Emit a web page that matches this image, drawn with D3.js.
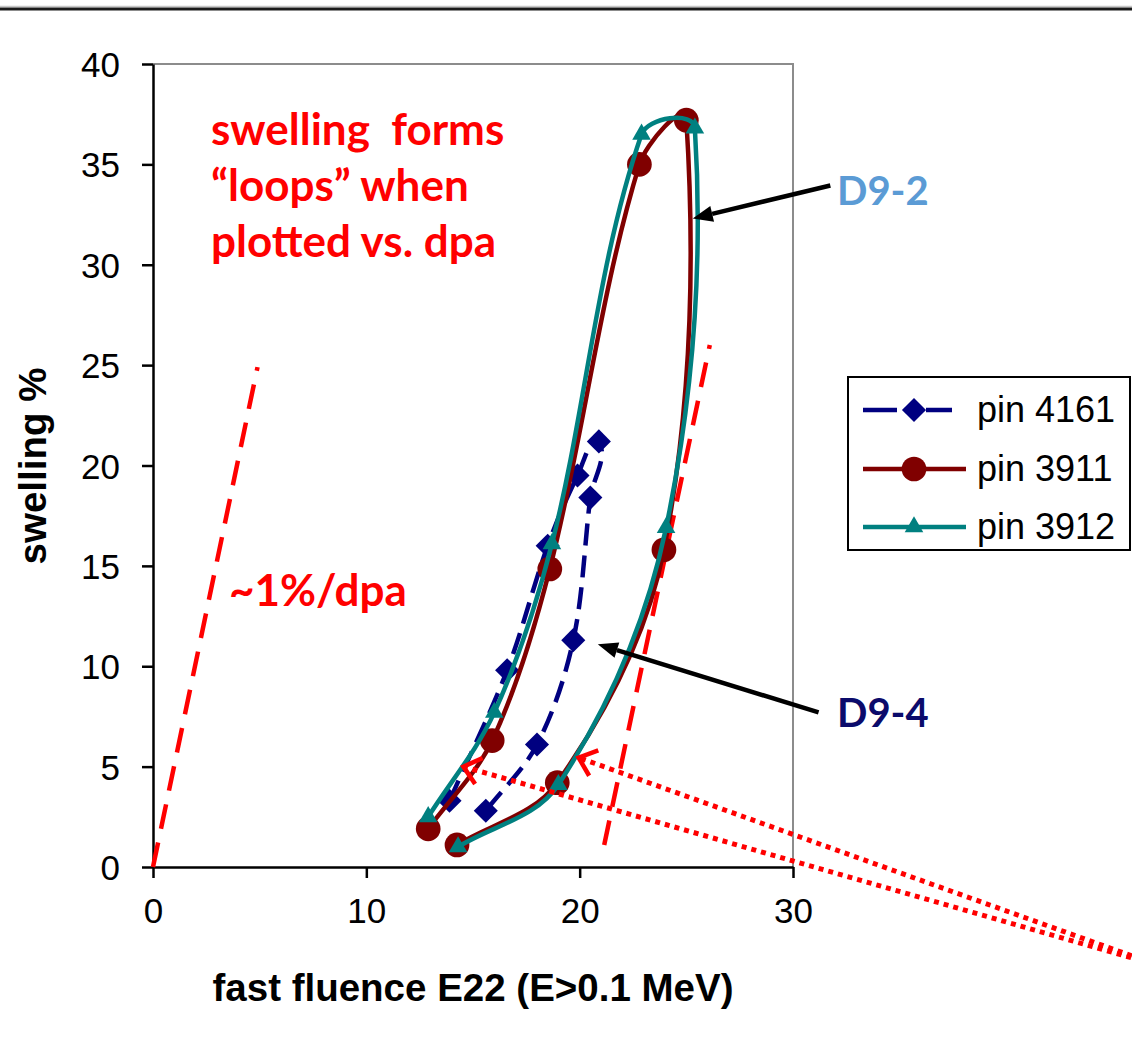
<!DOCTYPE html>
<html>
<head>
<meta charset="utf-8">
<script src="https://cdn.jsdelivr.net/npm/d3@7"></script>
<style>
  body { margin: 0; background: #fff; }
  svg { display: block; }
  .tick text { font-family: "Liberation Sans", Arial, sans-serif; }
</style>
</head>
<body>
<div id="chart"></div>
<script>
// Values: fast fluence (E22) and swelling (%)
const pin4161X = [13.9, 16.6, 18.5, 19.9, 20.9, 20.5, 19.7, 18.0, 15.6];
const pin4161Y = [3.3, 9.8, 16.0, 19.5, 21.2, 18.4, 11.3, 6.1, 2.8];

const pin3911X = [12.9, 15.9, 18.6, 22.8, 25.0, 23.95, 18.95, 14.25];
const pin3911Y = [1.9, 6.3, 14.85, 35.0, 37.2, 15.8, 4.2, 1.1];

const pin3912X = [12.9, 16.0, 18.7, 22.9, 25.4, 24.05, 19.0, 14.3];
const pin3912Y = [2.5, 7.7, 16.1, 36.5, 36.8, 16.9, 4.1, 1.0];

const seriesNames = ["pin 4161", "pin 3911", "pin 3912"];
const xTicks = [0, 10, 20, 30];
const yTicks = [0, 5, 10, 15, 20, 25, 30, 35, 40];

// annotation guides, in data units
const rateLineX = [0, 4.9];
const rateLineY = [0, 24.9];
const rateLine2X = [21.15, 26.1];
const rateLine2Y = [1.1, 26.0];
const pointerFromX = [47.2, 47.2];
const pointerFromY = [-4.93, -4.93];
const pointerToX = [14.55, 19.95];
const pointerToY = [5.0, 5.45];
const labelArrowFromX = [31.75, 31.2];
const labelArrowFromY = [33.95, 7.7];
const labelArrowToX = [25.3, 20.85];
const labelArrowToY = [32.3, 11.1];

const width = 1132;
const height = 1046;

const svg = d3.select("#chart")
  .append("svg")
    .attr("width", width)
    .attr("height", height);

// rule across the top of the slide
svg.append("line")
    .attr("x1", 0).attr("x2", width)
    .attr("y1", 6.5).attr("y2", 6.5)
    .attr("stroke", "#c8c8c8").attr("stroke-width", 1.5);
svg.append("line")
    .attr("x1", 0).attr("x2", width)
    .attr("y1", 9).attr("y2", 9)
    .attr("stroke", "#1a1a1a").attr("stroke-width", 3);

const x = d3.scaleLinear().domain([0, 30]).range([153, 793]);
const y = d3.scaleLinear().domain([0, 40]).range([867, 64]);

// plot frame (grey top and right)
svg.append("path")
    .attr("d", `M${x(0)},${y(40)}H${x(30)}V${y(0)}`)
    .attr("fill", "none")
    .attr("stroke", "#8c8c8c")
    .attr("stroke-width", 2);

// axes
const yAxis = svg.append("g")
    .attr("transform", `translate(${x(0)},0)`)
    .call(d3.axisLeft(y).tickValues(yTicks).tickSize(11).tickSizeOuter(0).tickPadding(22));
const xAxis = svg.append("g")
    .attr("transform", `translate(0,${y(0)})`)
    .call(d3.axisBottom(x).tickValues(xTicks).tickSize(11).tickSizeOuter(0).tickPadding(20));

[xAxis, yAxis].forEach(g => {
  g.select(".domain").attr("stroke", "#000").attr("stroke-width", 2.5);
  g.selectAll(".tick line").attr("stroke", "#000").attr("stroke-width", 2.5);
  g.selectAll(".tick text").attr("font-size", 35).attr("fill", "#000");
});
yAxis.selectAll(".tick text").attr("dy", "0.36em");

// axis titles
svg.append("text")
    .attr("x", 473).attr("y", 1001)
    .attr("text-anchor", "middle")
    .attr("font-family", "Liberation Sans, Arial, sans-serif")
    .attr("font-weight", "bold")
    .attr("font-size", 38.5)
    .text("fast fluence E22 (E>0.1 MeV)");

svg.append("text")
    .attr("transform", "translate(46,466) rotate(-90)")
    .attr("text-anchor", "middle")
    .attr("font-family", "Liberation Sans, Arial, sans-serif")
    .attr("font-weight", "bold")
    .attr("font-size", 38.5)
    .text("swelling %");

// red dashed "~1%/dpa" guide lines
const guide = d3.line().x(d => x(d[0])).y(d => y(d[1]));
[[rateLineX, rateLineY], [rateLine2X, rateLine2Y]].forEach(([gx, gy]) => {
  svg.append("path")
      .attr("d", guide(d3.zip(gx, gy)))
      .attr("fill", "none")
      .attr("stroke", "#ff0000")
      .attr("stroke-width", 4.5)
      .attr("stroke-dasharray", "25,14");
});

// Excel-like smoothed line: tangent along neighbours, handles a third of the chord
function smoothPath(pts) {
  const p = pts.map(d => [x(d[0]), y(d[1])]);
  const n = p.length;
  const tan = p.map((d, i) => {
    const a = p[Math.max(i - 1, 0)], b = p[Math.min(i + 1, n - 1)];
    const dx = b[0] - a[0], dy = b[1] - a[1], l = Math.hypot(dx, dy) || 1;
    return [dx / l, dy / l];
  });
  const path = d3.path();
  path.moveTo(p[0][0], p[0][1]);
  for (let i = 0; i < n - 1; i++) {
    const L = Math.hypot(p[i + 1][0] - p[i][0], p[i + 1][1] - p[i][1]) / 3;
    path.bezierCurveTo(
      p[i][0] + tan[i][0] * L, p[i][1] + tan[i][1] * L,
      p[i + 1][0] - tan[i + 1][0] * L, p[i + 1][1] - tan[i + 1][1] * L,
      p[i + 1][0], p[i + 1][1]);
  }
  return path.toString();
}

// series
const series = [
  { name: seriesNames[0], xs: pin4161X, ys: pin4161Y, color: "#000080", dash: "22,10",
    symbol: d3.symbolSquare, size: 290, rotate: 45 },
  { name: seriesNames[1], xs: pin3911X, ys: pin3911Y, color: "#800000", dash: null,
    symbol: d3.symbolCircle, size: 480, rotate: 0 },
  { name: seriesNames[2], xs: pin3912X, ys: pin3912Y, color: "#008080", dash: null,
    symbol: d3.symbolTriangle, size: 150, rotate: 0 }
];

series.forEach(s => {
  const pts = d3.zip(s.xs, s.ys);
  const g = svg.append("g");
  g.append("path")
      .attr("d", smoothPath(pts))
      .attr("fill", "none")
      .attr("stroke", s.color)
      .attr("stroke-width", 4.5)
      .attr("stroke-dasharray", s.dash);
  g.selectAll("path.mark")
    .data(pts)
    .enter().append("path")
      .attr("class", "mark")
      .attr("d", d3.symbol(s.symbol, s.size))
      .attr("fill", s.color)
      .attr("transform", d => `translate(${x(d[0])},${y(d[1])}) rotate(${s.rotate})`);
});

// dotted red pointers with open heads
d3.range(pointerToX.length).forEach(i => {
  const x0 = x(pointerFromX[i]), y0 = y(pointerFromY[i]);
  const x1 = x(pointerToX[i]), y1 = y(pointerToY[i]);
  svg.append("line")
      .attr("x1", x0).attr("y1", y0).attr("x2", x1).attr("y2", y1)
      .attr("stroke", "#ff0000")
      .attr("stroke-width", 5)
      .attr("stroke-dasharray", "5,5");
  const a = Math.atan2(y0 - y1, x0 - x1);
  const head = [a - 0.7, a + 0.7].map(t => [x1 + 21 * Math.cos(t), y1 + 21 * Math.sin(t)]);
  svg.append("path")
      .attr("d", `M${head[0]}L${x1},${y1}L${head[1]}`)
      .attr("fill", "none")
      .attr("stroke", "#ff0000")
      .attr("stroke-width", 4.5);
});

// black arrows to D9-2 / D9-4 labels
d3.range(labelArrowToX.length).forEach(i => {
  const x0 = x(labelArrowFromX[i]), y0 = y(labelArrowFromY[i]);
  const x1 = x(labelArrowToX[i]), y1 = y(labelArrowToY[i]);
  const a = Math.atan2(y0 - y1, x0 - x1);
  const bx = x1 + 20 * Math.cos(a), by = y1 + 20 * Math.sin(a);
  svg.append("line")
      .attr("x1", x0).attr("y1", y0).attr("x2", bx).attr("y2", by)
      .attr("stroke", "#000")
      .attr("stroke-width", 4.5);
  const p = [a + Math.PI / 2, a - Math.PI / 2].map(t => [bx + 8 * Math.cos(t), by + 8 * Math.sin(t)]);
  svg.append("path")
      .attr("d", `M${x1},${y1}L${p[0]}L${p[1]}Z`)
      .attr("fill", "#000");
});

// annotation text
const note = (tx, ty, str, size, color) => svg.append("text")
    .attr("x", tx).attr("y", ty)
    .attr("font-family", "Lato, 'Open Sans', sans-serif")
    .attr("font-weight", "bold")
    .attr("font-size", size)
    .attr("fill", color)
    .style("white-space", "pre")
    .text(str);

note(211, 145, "swelling  forms", 44, "#ff0000");
note(211, 201, "\u201cloops\u201d when", 44, "#ff0000");
note(211, 257, "plotted vs. dpa", 44, "#ff0000");
note(229, 606, "~1%/dpa", 44, "#ff0000");
note(837, 205, "D9-2", 40, "#5b9bd5");
note(837, 727, "D9-4", 40, "#0b0b6b");

// legend
const legend = svg.append("g");
legend.append("rect")
    .attr("x", 848).attr("y", 377)
    .attr("width", 282).attr("height", 173)
    .attr("fill", "#fff")
    .attr("stroke", "#000")
    .attr("stroke-width", 2);

const rows = legend.selectAll("g.row")
  .data(series)
  .enter().append("g")
    .attr("class", "row")
    .attr("transform", (d, i) => `translate(0,${[410, 469, 527][i]})`);

rows.append("line")
    .attr("x1", 863)
    .attr("x2", (d, i) => i === 0 ? 952 : 966)
    .attr("stroke", d => d.color)
    .attr("stroke-width", 4.5)
    .attr("stroke-dasharray", (d, i) => i === 0 ? "34,29,26" : null);

rows.append("path")
    .attr("d", d => d3.symbol(d.symbol, d.size)())
    .attr("fill", d => d.color)
    .attr("transform", d => `translate(914,0) rotate(${d.rotate})`);

rows.append("text")
    .attr("x", 977)
    .attr("y", 12)
    .attr("font-family", "Liberation Sans, Arial, sans-serif")
    .attr("font-size", 36)
    .text(d => d.name);
</script>
</body>
</html>
